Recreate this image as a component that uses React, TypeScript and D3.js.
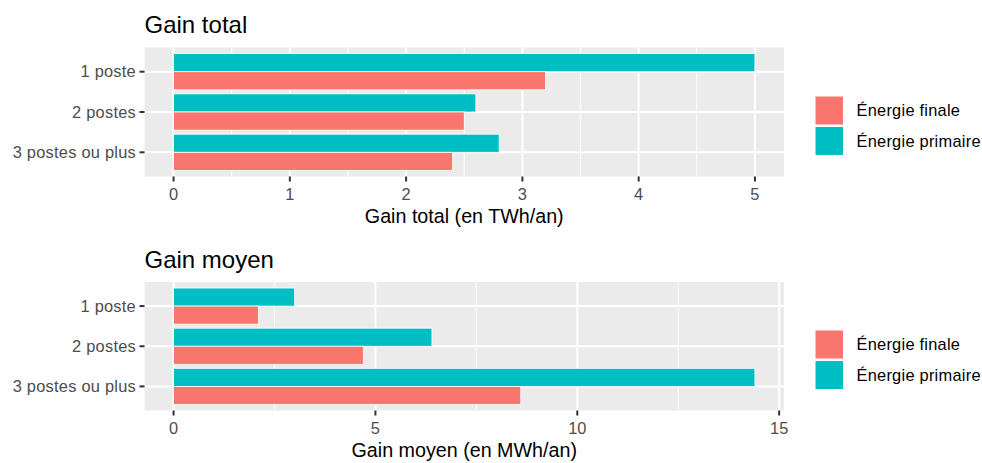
import React from "react";
import * as d3 from "d3";

const categories = ["1 poste", "2 postes", "3 postes ou plus"];
const seriesNames = ["Énergie finale", "Énergie primaire"];
const seriesColors = ["#F8766D", "#00BFC4"];

const totalFinale = [3.2, 2.5, 2.4];
const totalPrimaire = [5.0, 2.6, 2.8];
const totalTicks = [0, 1, 2, 3, 4, 5];

const moyenFinale = [2.1, 4.7, 8.6];
const moyenPrimaire = [3.0, 6.4, 14.4];
const moyenTicks = [0, 5, 10, 15];

const width = 982;
const height = 463;
const panelLeft = 144.5;
const panelRight = 784;
const font = "'Liberation Sans', Arial, sans-serif";
const smallSize = 16.4;
const smallSpacing = 0.25;

type PanelProps = {
  title: string;
  axisTitle: string;
  finale: number[];
  primaire: number[];
  ticks: number[];
  top: number; // panel top
  bottom: number; // panel bottom
  titleY: number;
  legendTop: number;
};

function Panel(props: PanelProps) {
  const { title, axisTitle, finale, primaire, ticks, top, bottom, titleY, legendTop } = props;
  const maxValue = d3.max([...finale, ...primaire]) as number;
  // ggplot default expansion: 5% of the range on each side
  const x = d3
    .scaleLinear()
    .domain([-0.05 * maxValue, maxValue * 1.05])
    .range([panelLeft, panelRight]);
  // discrete axis with 0.6 additive expansion, first category on top
  const y = d3.scaleLinear().domain([0.4, categories.length + 0.6]).range([top, bottom]);
  const step = y(2) - y(1);
  const barH = step * 0.45;

  const [lo, hi] = x.domain();
  const minor: number[] = [];
  for (let i = 0; i < ticks.length - 1; i++) minor.push((ticks[i] + ticks[i + 1]) / 2);
  const minorIn = minor.filter((m) => m > lo && m < hi);

  return (
    <g>
      <text x={panelLeft} y={titleY} fontSize={24} fill="#000" fontFamily={font}>
        {title}
      </text>
      <rect x={panelLeft} y={top} width={panelRight - panelLeft} height={bottom - top} fill="#EBEBEB" />
      {minorIn.map((m) => (
        <line key={"mi" + m} x1={x(m)} x2={x(m)} y1={top} y2={bottom} stroke="#fff" strokeWidth={1} />
      ))}
      {ticks.map((t) => (
        <line key={"ma" + t} x1={x(t)} x2={x(t)} y1={top} y2={bottom} stroke="#fff" strokeWidth={2} />
      ))}
      {categories.map((c, i) => (
        <line key={"h" + c} x1={panelLeft} x2={panelRight} y1={y(i + 1)} y2={y(i + 1)} stroke="#fff" strokeWidth={2} />
      ))}
      {categories.map((c, i) => (
        <g key={"b" + c}>
          <rect
            x={x(0)}
            y={y(i + 1) - barH}
            width={x(primaire[i]) - x(0)}
            height={barH}
            fill={seriesColors[1]}
            stroke="#fff"
            strokeWidth={0.8}
          />
          <rect
            x={x(0)}
            y={y(i + 1)}
            width={x(finale[i]) - x(0)}
            height={barH}
            fill={seriesColors[0]}
            stroke="#fff"
            strokeWidth={0.8}
          />
        </g>
      ))}
      {/* y axis */}
      {categories.map((c, i) => (
        <g key={"yt" + c}>
          <line x1={panelLeft - 5} x2={panelLeft} y1={y(i + 1)} y2={y(i + 1)} stroke="#333" strokeWidth={2} />
          <text
            x={panelLeft - 8.5}
            y={y(i + 1)}
            dy="0.35em"
            textAnchor="end"
            fontSize={smallSize}
            letterSpacing={smallSpacing}
            fill="#4D4D4D"
            fontFamily={font}
          >
            {c}
          </text>
        </g>
      ))}
      {/* x axis */}
      {ticks.map((t) => (
        <g key={"xt" + t}>
          <line x1={x(t)} x2={x(t)} y1={bottom} y2={bottom + 5} stroke="#333" strokeWidth={2} />
          <text x={x(t)} y={bottom + 23.5} textAnchor="middle" fontSize={smallSize} fill="#4D4D4D" fontFamily={font}>
            {t}
          </text>
        </g>
      ))}
      <text
        x={(panelLeft + panelRight) / 2}
        y={bottom + 46}
        textAnchor="middle"
        fontSize={19.7}
        fill="#000"
        fontFamily={font}
      >
        {axisTitle}
      </text>
      {/* legend */}
      {seriesNames.map((s, i) => (
        <g key={"lg" + s}>
          <rect x={815} y={legendTop + i * 30.5} width={28.5} height={29} fill={seriesColors[i]} stroke="#fff" strokeWidth={1} />
          <text
            x={856.5}
            y={legendTop + i * 30.5 + 14.5}
            dy="0.35em"
            fontSize={smallSize}
            letterSpacing={smallSpacing}
            fill="#000"
            fontFamily={font}
          >
            {s}
          </text>
        </g>
      ))}
    </g>
  );
}

export default function App() {
  return (
    <svg
      width={width}
      height={height}
      style={{ position: "absolute", left: 0, top: 0, background: "#fff" }}
    >
      <rect width={width} height={height} fill="#fff" />
      <Panel
        title="Gain total"
        axisTitle="Gain total (en TWh/an)"
        finale={totalFinale}
        primaire={totalPrimaire}
        ticks={totalTicks}
        top={47.5}
        bottom={176.5}
        titleY={33}
        legendTop={96}
      />
      <Panel
        title="Gain moyen"
        axisTitle="Gain moyen (en MWh/an)"
        finale={moyenFinale}
        primaire={moyenPrimaire}
        ticks={moyenTicks}
        top={282}
        bottom={410.5}
        titleY={267.5}
        legendTop={330}
      />
    </svg>
  );
}
